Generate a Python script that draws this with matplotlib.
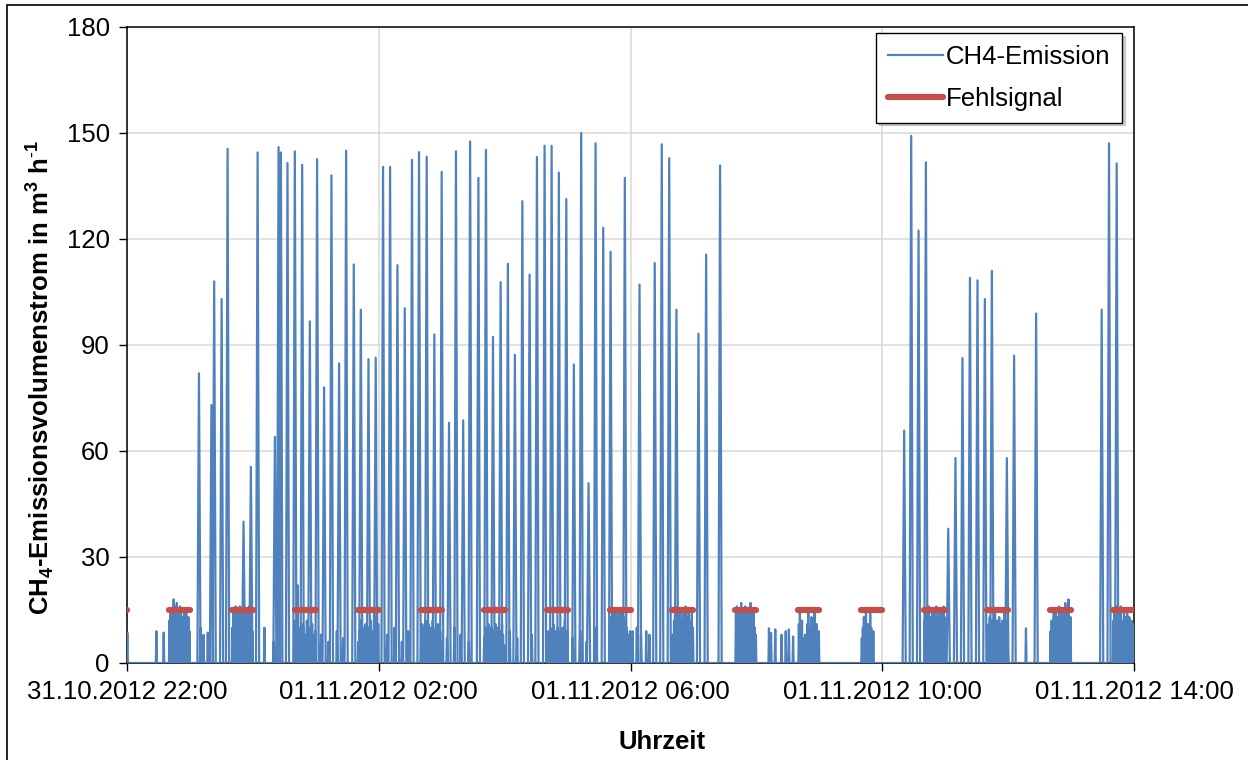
import matplotlib
matplotlib.use("Agg")
import matplotlib.pyplot as plt
from matplotlib.patches import Rectangle
import numpy as np

plt.rcParams['font.family'] = ['Liberation Sans', 'DejaVu Sans']
plt.rcParams['mathtext.fontset'] = 'custom'
plt.rcParams['mathtext.rm'] = 'Liberation Sans'
plt.rcParams['mathtext.bf'] = 'Liberation Sans:bold'

# ---------------- data (minutes after 31.10.2012 22:00) ----------------
peak_min = [68.6, 80.5, 83.1, 90.2, 95.9, 111.1, 118.1, 124.5, 141.0, 144.5,
            146.7, 153.0, 160.0, 167.0, 174.3, 181.2, 187.9, 194.9, 202.2, 208.9,
            216.2, 222.9, 230.2, 237.1, 244.1, 250.8, 257.8, 264.8, 271.7, 278.4,
            285.7, 293.0, 300.0, 307.0, 313.6, 320.5, 327.1, 335.0, 342.2, 348.9,
            356.2, 363.1, 369.8, 376.9, 383.8, 390.8, 398.1, 404.8, 411.7, 418.8,
            426.0, 433.0, 440.0, 446.7, 454.0, 461.0, 474.6, 488.6, 503.1, 509.8,
            516.9, 523.8, 544.8, 552.1, 565.4, 740.9, 747.6, 754.6, 761.6, 782.9,
            789.8, 796.5, 803.6, 810.8, 817.8, 824.5, 838.8, 845.7, 866.7, 929.2,
            936.2, 943.5]
peak_val = [82.0, 73.0, 108.0, 103.0, 145.5, 40.0, 55.5, 144.5, 64.0, 146.0,
            144.5, 141.5, 144.8, 141.0, 96.7, 142.6, 78.0, 138.0, 84.8, 145.0,
            112.8, 100.0, 86.0, 86.4, 140.4, 140.4, 112.6, 100.4, 142.4, 144.6,
            143.3, 93.0, 139.0, 68.0, 144.8, 68.7, 147.6, 137.3, 145.2, 92.3,
            107.8, 113.0, 87.2, 130.7, 109.9, 143.2, 146.4, 146.4, 138.8, 131.3,
            84.5, 150.0, 50.9, 147.1, 123.2, 116.4, 137.3, 107.1, 113.2, 146.8,
            142.9, 100.0, 93.2, 115.6, 140.8, 65.8, 149.2, 122.4, 141.7, 38.0,
            58.0, 86.3, 109.0, 108.3, 103.0, 111.0, 58.0, 87.0, 98.9, 100.0,
            147.1, 141.4]

# small isolated readings outside the error windows
small_min = [0.3, 28.0, 35.0, 70.0, 73.0, 77.0, 131.0, 140.0, 185.0, 192.0,
             200.0, 206.0, 248.0, 255.0, 262.0, 268.0, 305.0, 312.0, 318.0, 326.0,
             365.0, 372.0, 386.0, 425.0, 432.0, 438.0, 446.0, 482.0, 486.0, 490.0,
             495.0, 498.0, 612.0, 614.0, 618.0, 624.0, 628.0, 631.0, 635.0, 857.0]
small_val = [8.6, 9.0, 8.6, 10.0, 8.0, 8.6, 10.0, 6.0, 8.0, 6.0,
             9.0, 7.0, 8.0, 10.0, 6.0, 9.0, 7.0, 10.0, 8.0, 6.0,
             9.0, 7.0, 8.0, 7.0, 9.0, 6.0, 10.0, 9.0, 10.0, 8.0,
             9.0, 8.0, 9.8, 8.5, 9.5, 8.0, 9.0, 9.5, 7.5, 9.8]

# readings during the error-signal windows (one per minute)
noise_start = [40, 100, 160, 220, 280, 340, 400, 460, 520, 580, 640, 700, 760, 820, 880, 940]
noise_vals = [
    [12, 14, 15, 13, 18, 16, 14, 17, 15, 12, 16, 14, 13, 11, 15, 12, 14, 10, 13, 9],
    [10, 15, 13, 16, 12, 15, 14, 16, 11, 15, 13, 16, 12, 14, 15, 13, 16, 10, 12, 9],
    [12, 8, 22, 10, 6, 9, 11, 7, 10, 5, 8, 12, 9, 6, 10, 7, 11, 8, 5, 9],
    [6, 9, 12, 7, 10, 5, 8, 11, 9, 6, 10, 8, 12, 7, 9, 15, 10, 13, 8, 11],
    [8, 11, 7, 10, 12, 9, 6, 11, 8, 10, 7, 12, 9, 5, 10, 8, 11, 7, 9, 6],
    [7, 10, 6, 9, 11, 8, 5, 10, 7, 9, 6, 11, 8, 10, 6, 9, 7, 11, 8, 5],
    [6, 9, 7, 10, 5, 8, 11, 7, 9, 6, 10, 8, 6, 9, 7, 10, 8, 12, 6, 9],
    [10, 13, 15, 12, 14, 11, 15, 13, 10, 14, 12, 15, 11, 13, 9, 12, 10, 8, 7, 9],
    [8, 12, 16, 10, 14, 11, 13, 15, 9, 12, 14, 10, 16, 13, 11, 15, 12, 9, 14, 10],
    [14, 16, 12, 15, 13, 17, 11, 15, 14, 16, 10, 13, 15, 12, 17, 14, 11, 15, 10, 8],
    [11, 15, 9, 12, 7, 6, 8, 7, 11, 15, 7, 10, 13, 9, 12, 15, 8, 11, 6, 9],
    [7, 10, 13, 9, 15, 8, 11, 7, 14, 10, 6, 9],
    [12, 15, 10, 14, 16, 11, 13, 15, 9, 14, 12, 16, 10, 13, 15, 11, 14, 12, 16, 13],
    [9, 11, 13, 10, 12, 8, 11, 14, 9, 12, 10, 13, 8, 11, 12, 9, 15, 10, 12, 8],
    [9, 12, 10, 14, 11, 15, 13, 10, 16, 12, 14, 11, 15, 13, 17, 12, 14, 18, 11, 13],
    [12, 15, 10, 16, 13, 11, 14, 16, 12, 10, 15, 13, 11, 14, 9, 13, 10, 12, 8, 11],
]

# error signal windows (start minute, 20 min long), level 15
fehl_start = [-20, 40, 100, 160, 220, 280, 340, 400, 460, 520, 580, 640, 700, 760, 820, 880, 940]
fehl_len = 20
fehl_level = 15

tick_hours = [0, 4, 8, 12, 16]
tick_labels = ["31.10.2012 22:00", "01.11.2012 02:00", "01.11.2012 06:00",
               "01.11.2012 10:00", "01.11.2012 14:00"]

# ---------------- build the series ----------------
events = []
for t, v in zip(peak_min, peak_val):
    events.append((t, v, 1.5))
for t, v in zip(small_min, small_val):
    events.append((t, v, 0.5))
for s, vals in zip(noise_start, noise_vals):
    for i, v in enumerate(vals):
        events.append((s + i + 0.5, v, 0.5))
events.sort()

xs, ys = [0.0], [0.0]
for t, v, hw in events:
    xs += [t - hw, t, t + hw]
    ys += [0.0, v, 0.0]
xs.append(960.0)
ys.append(0.0)
xs = np.array(xs) / 60.0
ys = np.array(ys)

fx, fy = [], []
for s in fehl_start:
    fx += [s / 60.0, (s + fehl_len) / 60.0, np.nan]
    fy += [fehl_level, fehl_level, np.nan]

# ---------------- figure ----------------
W, H = 1248, 760
fig = plt.figure(figsize=(W / 100, H / 100), dpi=100)
ax = fig.add_axes([127 / W, 1 - 663 / H, (1134 - 127) / W, (663 - 27) / H])

blue = '#4F81BD'
red = '#C0504D'
ax.plot(xs, ys, color=blue, lw=1.6, label='CH4-Emission', zorder=3)
ax.plot(fx, fy, color=red, lw=4.5, solid_capstyle='round', label='Fehlsignal', zorder=4)

ax.set_xlim(0, 16)
ax.set_ylim(0, 180)
ax.set_yticks(np.arange(0, 181, 30))
ax.set_xticks(tick_hours)
ax.set_xticklabels(tick_labels)
ax.grid(True, color='#D9D9D9', lw=1.1, zorder=0)
ax.set_axisbelow(True)
for sp in ax.spines.values():
    sp.set_color('black')
    sp.set_linewidth(1.1)
ax.tick_params(axis='both', direction='out', length=5.5, width=1.0,
               labelsize=18.5, colors='black', pad=7)

leg = ax.legend(loc='upper right', bbox_to_anchor=(1122 / W, 1 - 33 / H),
                bbox_transform=fig.transFigure, borderaxespad=0,
                fontsize=18.5, frameon=True, fancybox=False,
                edgecolor='black', handlelength=2.15, handletextpad=0.12,
                labelspacing=0.72, borderpad=0.45,
                shadow={'color': '0.65'})
leg.get_frame().set_linewidth(1.0)

fig.text(662 / W, 1 - 742 / H, 'Uhrzeit', ha='center', va='center',
         fontsize=18.5, fontweight='bold')
fig.text(40 / W, 1 - 378 / H,
         r'CH$_\mathbf{4}$-Emissionsvolumenstrom in m$^\mathbf{3}$ h$^\mathbf{\text{-}1}$',
         ha='center', va='center', rotation=90, fontsize=18.5, fontweight='bold')

fig.add_artist(Rectangle((7 / W, -0.2), 1.5, 1.2 - 5 / H, transform=fig.transFigure,
                         fill=False, edgecolor='black', lw=1.2))

fig.savefig('out.png', dpi=100)
